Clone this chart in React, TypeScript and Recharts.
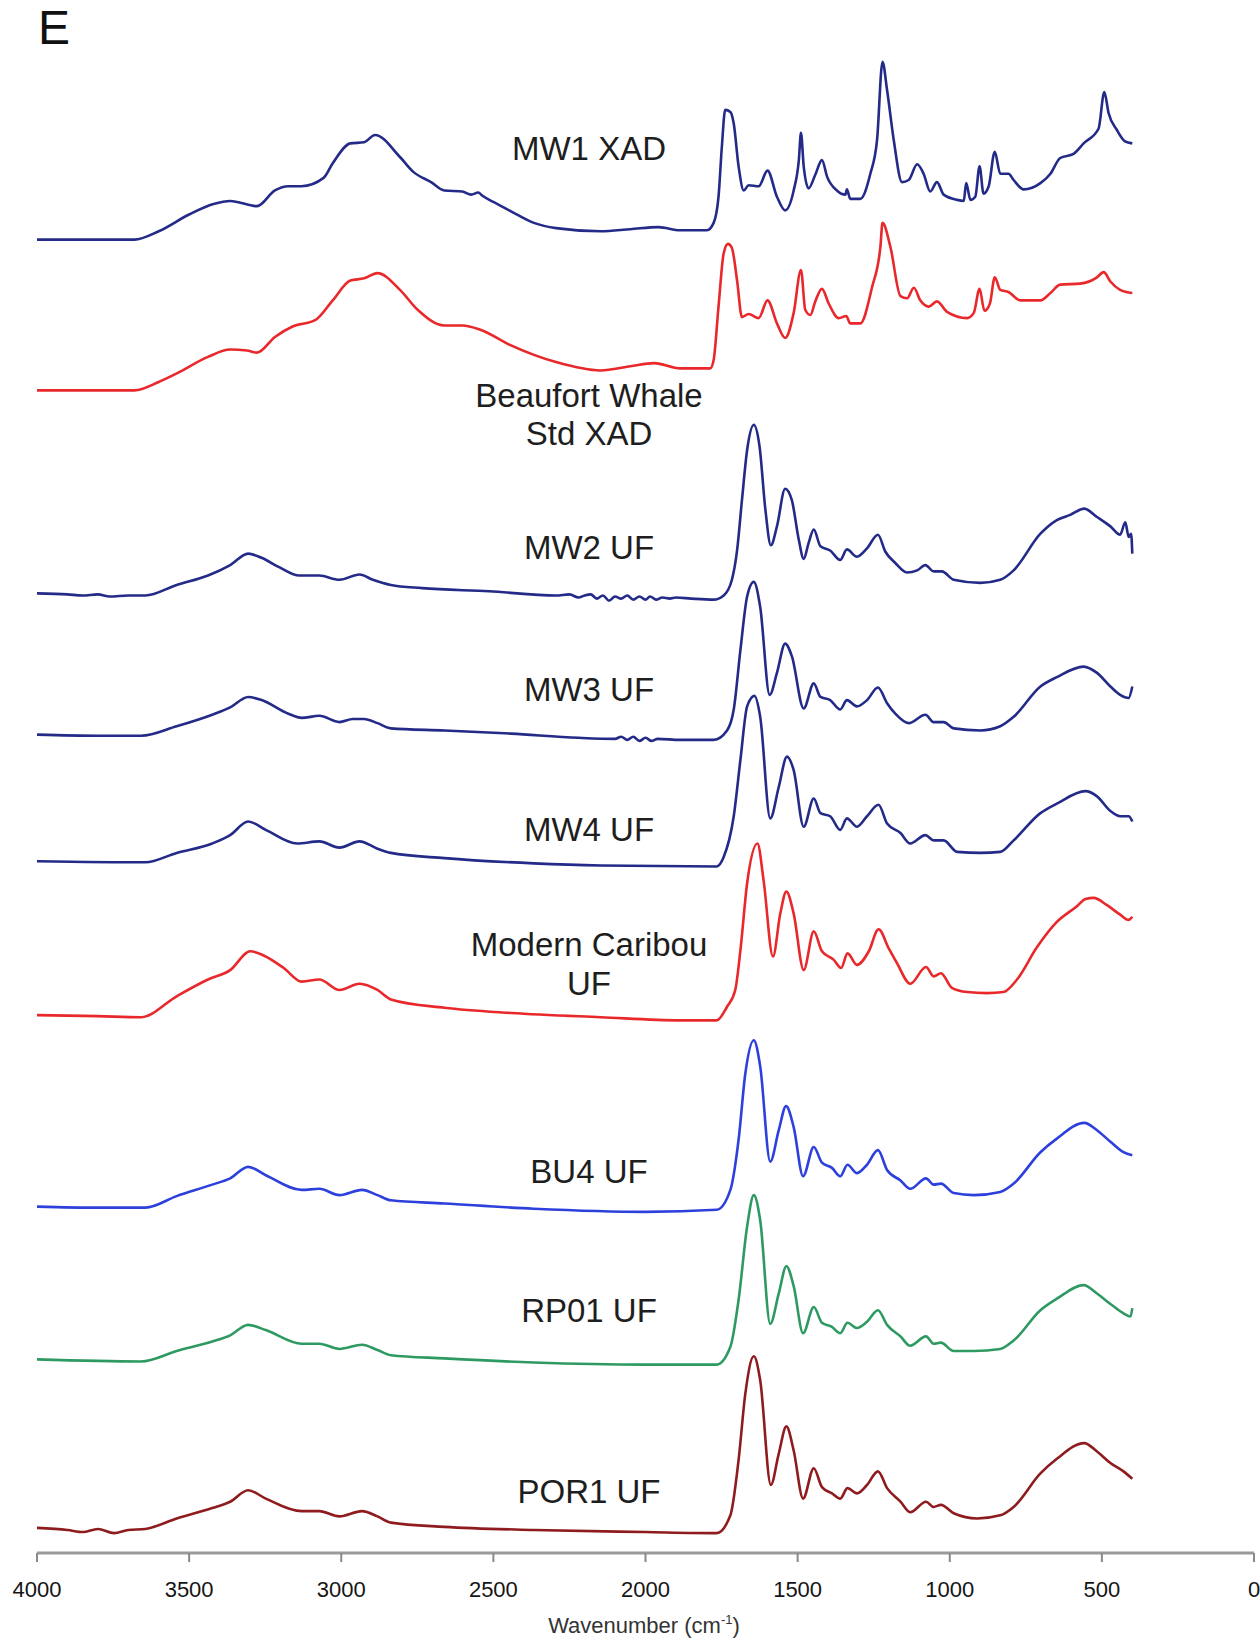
import { Line, LineChart, XAxis, YAxis } from 'recharts';

// FTIR spectra, [wavenumber cm-1, absorbance a.u.], each measured from its own baseline
const mw1Xad: Array<[number, number]> = [
  [4000, 0], [3800, 0], [3680, 0], [3600, 8], [3500, 24], [3420, 34], [3365, 37], [3277, 32], [3218, 47],
  [3174, 51], [3131, 51], [3058, 59], [3028, 73], [2970, 92], [2925, 93], [2889, 100], [2807, 79], [2764, 65],
  [2705, 55], [2661, 47], [2602, 46], [2573, 43], [2550, 45], [2536, 42], [2500, 36], [2442, 27], [2367, 16],
  [2294, 11], [2148, 8], [2050, 10], [1957, 12], [1886, 9], [1798, 9], [1776, 16], [1760, 41], [1749, 89],
  [1738, 124], [1721, 122], [1710, 111], [1694, 70], [1677, 47], [1661, 52], [1628, 51], [1599, 66], [1568, 41],
  [1541, 28], [1513, 47], [1496, 76], [1489, 102], [1480, 70], [1464, 49], [1442, 62], [1420, 76], [1403, 60],
  [1371, 47], [1343, 43], [1338, 48], [1327, 39], [1294, 39], [1261, 63], [1239, 95], [1221, 170], [1206, 143],
  [1184, 95], [1157, 55], [1135, 57], [1107, 72], [1086, 63], [1064, 46], [1042, 55], [1020, 43], [976, 38],
  [954, 37], [946, 54], [932, 38], [916, 41], [902, 70], [889, 44], [872, 51], [852, 84], [834, 63], [807, 63],
  [790, 57], [757, 48], [702, 54], [669, 63], [637, 78], [593, 82], [560, 92], [511, 106], [492, 141], [478, 121],
  [451, 105], [424, 94], [400, 92],
];

const beaufortXad: Array<[number, number]> = [
  [4000, 0], [3680, 0], [3600, 8], [3542, 16], [3438, 32], [3365, 39], [3310, 38], [3277, 36], [3218, 51],
  [3160, 61], [3086, 67], [3028, 86], [2970, 105], [2925, 107], [2881, 112], [2807, 96], [2749, 77], [2661, 62],
  [2602, 62], [2543, 58], [2442, 43], [2294, 27], [2148, 19], [2050, 23], [1971, 26], [1886, 21], [1787, 21],
  [1776, 29], [1760, 80], [1743, 131], [1729, 140], [1716, 136], [1699, 105], [1683, 70], [1661, 73], [1628, 69],
  [1599, 86], [1568, 64], [1541, 50], [1513, 74], [1489, 115], [1475, 77], [1458, 72], [1442, 85], [1420, 97],
  [1398, 83], [1365, 69], [1340, 71], [1327, 64], [1294, 64], [1255, 99], [1228, 137], [1221, 160], [1195, 137],
  [1162, 90], [1140, 88], [1118, 98], [1097, 86], [1069, 80], [1042, 85], [1009, 75], [943, 69], [921, 74],
  [902, 97], [886, 76], [868, 83], [852, 108], [834, 96], [807, 94], [768, 86], [702, 86], [669, 93], [637, 101],
  [571, 102], [516, 108], [494, 113], [472, 104], [440, 96], [400, 93],
];

const mw2Uf: Array<[number, number]> = [
  [4000, 0], [3900, -1], [3850, -2], [3800, -1], [3761, -3], [3700, -2], [3644, -2], [3541, 8], [3438, 17],
  [3365, 27], [3306, 38], [3262, 34], [3204, 25], [3138, 17], [3072, 17], [3006, 13], [2940, 18], [2896, 13],
  [2837, 8], [2734, 5], [2514, 2], [2294, -2], [2250, -1], [2220, -4], [2200, -2], [2180, -1], [2160, -5],
  [2140, -2], [2120, -7], [2100, -3], [2080, -5], [2060, -2], [2040, -6], [2020, -3], [2000, -6], [1985, -3],
  [1965, -6], [1945, -4], [1920, -5], [1900, -4], [1850, -5], [1776, -6], [1743, -2], [1716, 13], [1699, 41],
  [1683, 89], [1666, 137], [1644, 161], [1625, 140], [1606, 80], [1588, 46], [1568, 64], [1541, 100], [1519, 89],
  [1496, 51], [1480, 33], [1464, 48], [1447, 61], [1425, 45], [1393, 41], [1360, 32], [1338, 42], [1305, 35],
  [1272, 43], [1236, 56], [1212, 40], [1179, 29], [1141, 20], [1107, 22], [1080, 27], [1053, 21], [1026, 21],
  [987, 13], [899, 10], [834, 13], [790, 22], [702, 57], [648, 70], [604, 75], [558, 81], [516, 73], [472, 64],
  [440, 56], [423, 68], [412, 54], [404, 57], [400, 38],
];

const mw3Uf: Array<[number, number]> = [
  [4000, 0], [3800, -1], [3658, -1], [3541, 8], [3424, 19], [3365, 26], [3306, 36], [3262, 33], [3174, 20],
  [3130, 16], [3072, 18], [3006, 12], [2962, 15], [2925, 15], [2881, 11], [2837, 6], [2661, 4], [2441, 1],
  [2220, -3], [2100, -4], [2080, -2], [2060, -5], [2040, -2], [2020, -6], [2000, -3], [1980, -6], [1960, -4],
  [1886, -5], [1776, -5], [1732, 4], [1710, 24], [1688, 81], [1666, 132], [1644, 146], [1623, 122], [1592, 38],
  [1568, 59], [1541, 87], [1519, 75], [1480, 25], [1447, 49], [1425, 36], [1393, 33], [1360, 24], [1338, 33],
  [1305, 27], [1272, 33], [1236, 45], [1206, 30], [1179, 20], [1135, 11], [1080, 19], [1053, 12], [1020, 12],
  [987, 6], [899, 4], [834, 8], [790, 17], [702, 46], [648, 55], [560, 65], [516, 59], [472, 46], [440, 38],
  [412, 35], [400, 46],
];

const mw4Uf: Array<[number, number]> = [
  [4000, 0], [3644, -1], [3541, 8], [3424, 17], [3365, 25], [3306, 38], [3248, 30], [3145, 17], [3072, 19],
  [3006, 13], [2940, 19], [2881, 12], [2837, 8], [2661, 3], [2367, -2], [2147, -4], [1766, -5], [1743, 4],
  [1710, 43], [1688, 97], [1666, 148], [1642, 158], [1623, 138], [1590, 41], [1562, 71], [1535, 100], [1513, 87],
  [1480, 33], [1447, 60], [1425, 46], [1393, 43], [1360, 30], [1338, 41], [1305, 33], [1272, 43], [1234, 54],
  [1206, 36], [1162, 27], [1130, 17], [1080, 25], [1053, 20], [1020, 20], [976, 9], [899, 8], [834, 9], [790, 20],
  [702, 46], [648, 55], [554, 67], [516, 62], [472, 48], [440, 43], [412, 43], [400, 38],
];

const caribouUf: Array<[number, number]> = [
  [4000, 0], [3800, -1], [3658, -2], [3541, 18], [3438, 34], [3365, 43], [3299, 61], [3255, 57], [3189, 45],
  [3130, 32], [3072, 34], [3006, 24], [2940, 30], [2881, 24], [2837, 15], [2661, 7], [2441, 2], [2147, -2],
  [1886, -5], [1766, -5], [1732, 8], [1705, 24], [1688, 62], [1666, 126], [1632, 164], [1612, 129], [1581, 56],
  [1557, 97], [1537, 118], [1513, 97], [1480, 43], [1447, 80], [1420, 61], [1382, 53], [1357, 45], [1336, 59],
  [1305, 48], [1266, 61], [1234, 82], [1201, 64], [1174, 50], [1130, 30], [1078, 46], [1053, 37], [1029, 40],
  [993, 26], [943, 22], [878, 21], [823, 22], [779, 34], [713, 65], [648, 89], [582, 104], [554, 111], [527, 112],
  [483, 105], [440, 96], [412, 91], [400, 94],
];

const bu4Uf: Array<[number, number]> = [
  [4000, 0], [3800, -1], [3644, -1], [3541, 10], [3424, 21], [3365, 27], [3306, 38], [3248, 30], [3130, 16],
  [3072, 17], [3006, 11], [2932, 16], [2881, 11], [2837, 6], [2661, 3], [2367, -2], [2001, -5], [1766, -3],
  [1721, 16], [1694, 64], [1672, 127], [1644, 159], [1623, 134], [1590, 43], [1562, 73], [1538, 96], [1513, 76],
  [1482, 29], [1447, 57], [1420, 42], [1387, 37], [1360, 29], [1336, 40], [1305, 32], [1272, 40], [1236, 54],
  [1206, 35], [1162, 25], [1130, 17], [1078, 27], [1053, 21], [1029, 22], [987, 13], [921, 11], [834, 14],
  [790, 22], [702, 52], [648, 65], [558, 80], [516, 73], [472, 62], [429, 52], [400, 49],
];

const rp01Uf: Array<[number, number]> = [
  [4000, 0], [3658, -2], [3541, 8], [3424, 17], [3365, 23], [3306, 33], [3248, 28], [3130, 15], [3072, 15],
  [3006, 10], [2932, 14], [2881, 9], [2837, 4], [2661, 1], [2367, -3], [2001, -5], [1766, -5], [1721, 12],
  [1694, 57], [1666, 127], [1644, 157], [1623, 133], [1590, 34], [1562, 63], [1537, 89], [1513, 70], [1482, 25],
  [1447, 50], [1420, 35], [1387, 31], [1360, 25], [1336, 35], [1305, 30], [1272, 36], [1236, 47], [1206, 33],
  [1162, 22], [1130, 13], [1078, 22], [1053, 15], [1029, 16], [987, 8], [921, 8], [834, 10], [790, 18], [702, 47],
  [648, 58], [560, 71], [516, 63], [472, 53], [429, 44], [406, 41], [400, 49],
];

const por1Uf: Array<[number, number]> = [
  [4000, 0], [3900, -2], [3849, -4], [3800, -1], [3747, -5], [3700, -2], [3644, -1], [3541, 9], [3424, 19],
  [3365, 25], [3306, 36], [3248, 28], [3130, 16], [3072, 16], [3006, 11], [2932, 16], [2881, 11], [2837, 5],
  [2661, 1], [2367, -2], [2001, -4], [1766, -5], [1721, 12], [1694, 65], [1672, 128], [1644, 164], [1623, 141],
  [1588, 41], [1562, 71], [1537, 97], [1513, 74], [1482, 28], [1447, 57], [1420, 39], [1387, 33], [1360, 28],
  [1336, 38], [1305, 33], [1272, 41], [1236, 54], [1206, 38], [1162, 25], [1130, 15], [1078, 25], [1053, 20],
  [1029, 22], [987, 14], [910, 9], [834, 12], [790, 20], [702, 52], [648, 66], [558, 81], [516, 73], [472, 62],
  [429, 54], [400, 47],
];

// vertical stacking offset of each spectrum (same units as absorbance)
const offsets = [1255, 1111, 917, 782, 661, 514, 331, 185, 24];
const sampleNames = ['MW1 XAD', 'Beaufort Whale Std XAD', 'MW2 UF', 'MW3 UF', 'MW4 UF', 'Modern Caribou UF', 'BU4 UF', 'RP01 UF', 'POR1 UF'];
const spectra = [mw1Xad, beaufortXad, mw2Uf, mw3Uf, mw4Uf, caribouUf, bu4Uf, rp01Uf, por1Uf];
const colors = ['#232a88', '#e8282b', '#232a88', '#232a88', '#232a88', '#e8282b', '#2e40dc', '#2e9a62', '#8e1c1e'];

const wavenumberTicks = [4000, 3500, 3000, 2500, 2000, 1500, 1000, 500, 0];

// sample label lines, drawn centred over the spectra
const labelLines: Array<{ text: string; y: number }> = [
  { text: 'MW1 XAD', y: 160 },
  { text: 'Beaufort Whale', y: 407 },
  { text: 'Std XAD', y: 445 },
  { text: 'MW2 UF', y: 559 },
  { text: 'MW3 UF', y: 701 },
  { text: 'MW4 UF', y: 841 },
  { text: 'Modern Caribou', y: 956 },
  { text: 'UF', y: 995 },
  { text: 'BU4 UF', y: 1183 },
  { text: 'RP01 UF', y: 1322 },
  { text: 'POR1 UF', y: 1503 },
];

const FONT = '"Liberation Sans", Arial, sans-serif';
const W = 1260;
const H = 1641;

const series = spectra.map((points, i) => ({
  name: sampleNames[i],
  color: colors[i],
  data: points.map(([w, a]) => ({ w, y: offsets[i] + a })),
}));

export default function App() {
  return (
    <div style={{ position: 'absolute', left: 0, top: 0, width: W, height: H, background: '#fff' }}>
      <LineChart width={W} height={H} margin={{ top: 0, right: 6, bottom: 28, left: 37 }}>
        <XAxis
          type="number"
          dataKey="w"
          domain={[0, 4000]}
          reversed
          ticks={wavenumberTicks}
          interval={0}
          allowDataOverflow
          height={60}
          tickSize={9}
          tickMargin={19}
          axisLine={{ stroke: '#9a9a9a', strokeWidth: 3 }}
          tickLine={{ stroke: '#8a8a8a', strokeWidth: 2 }}
          tick={{ fill: '#151515', fontSize: 22, fontFamily: FONT }}
        />
        <YAxis type="number" domain={[0, 1484]} hide allowDataOverflow />
        {series.map((s) => (
          <Line
            key={s.name}
            data={s.data}
            dataKey="y"
            name={s.name}
            type="monotone"
            stroke={s.color}
            strokeWidth={2.6}
            dot={false}
            activeDot={false}
            isAnimationActive={false}
          />
        ))}
      </LineChart>
      <svg width={W} height={H} style={{ position: 'absolute', left: 0, top: 0, pointerEvents: 'none' }}>
        <text x={38} y={44} fontSize={48} fontFamily={FONT} fill="#111">
          E
        </text>
        {labelLines.map((l) => (
          <text key={l.text + l.y} x={589} y={l.y} textAnchor="middle" fontSize={33} fontFamily={FONT} fill="#1e1e1e">
            {l.text}
          </text>
        ))}
        <text x={644} y={1633} textAnchor="middle" fontSize={22} fontFamily={FONT} fill="#333">
          Wavenumber (cm
          <tspan fontSize={13} dy={-9}>
            -1
          </tspan>
          <tspan dy={9}>)</tspan>
        </text>
      </svg>
    </div>
  );
}
